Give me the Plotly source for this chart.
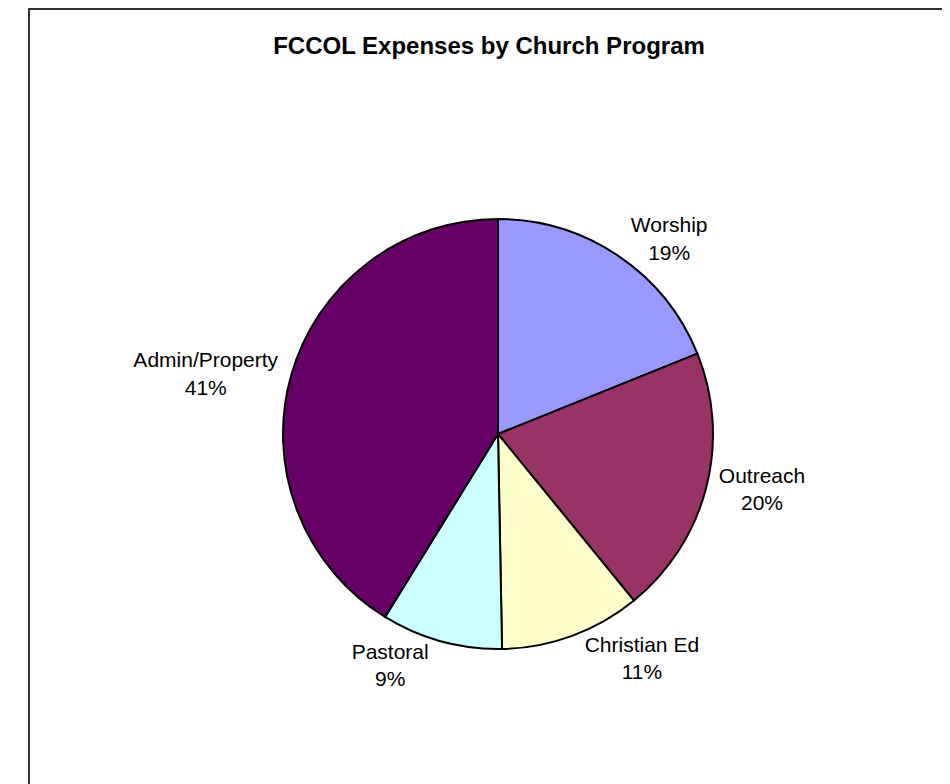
import plotly.graph_objects as go

categories = ["Worship", "Outreach", "Christian Ed", "Pastoral", "Admin/Property"]
values = [18.9, 20.2, 10.6, 9.1, 41.2]
colors = ["#9999FF", "#993366", "#FFFFCC", "#CCFFFF", "#660066"]

W, H = 950, 784
# page has an 8px body margin; positions below are in figure coordinates
cx, cy, r = 490, 426, 215

FONT = "Arial, Liberation Sans, sans-serif"

fig = go.Figure(go.Pie(
    labels=categories,
    values=values,
    sort=False,
    direction="clockwise",
    rotation=0,
    marker=dict(colors=colors, line=dict(color="#000000", width=2)),
    texttemplate="%{label}<br>%{percent:.0%}",
    textposition="outside",
    textfont=dict(family=FONT, size=21, color="#000000"),
    showlegend=False,
    hoverinfo="label+percent",
    domain=dict(x=[(cx - r) / W, (cx + r) / W], y=[(H - cy - r) / H, (H - cy + r) / H]),
))

fig.update_layout(
    width=W, height=H,
    margin=dict(l=0, r=0, t=0, b=0),
    paper_bgcolor="white",
    plot_bgcolor="white",
    title=dict(
        text="<b>FCCOL Expenses by Church Program</b>",
        x=481 / W, xanchor="center",
        y=1 - 38 / H, yanchor="middle",
        font=dict(family=FONT, size=24, color="#000000"),
    ),
    shapes=[dict(
        type="rect", xref="paper", yref="paper",
        x0=21 / W, x1=1.1, y0=-0.1, y1=1 - 1 / H,
        line=dict(color="#333333", width=2),
        fillcolor="rgba(0,0,0,0)",
        layer="above",
    )],
)

fig.write_html("out.html")
